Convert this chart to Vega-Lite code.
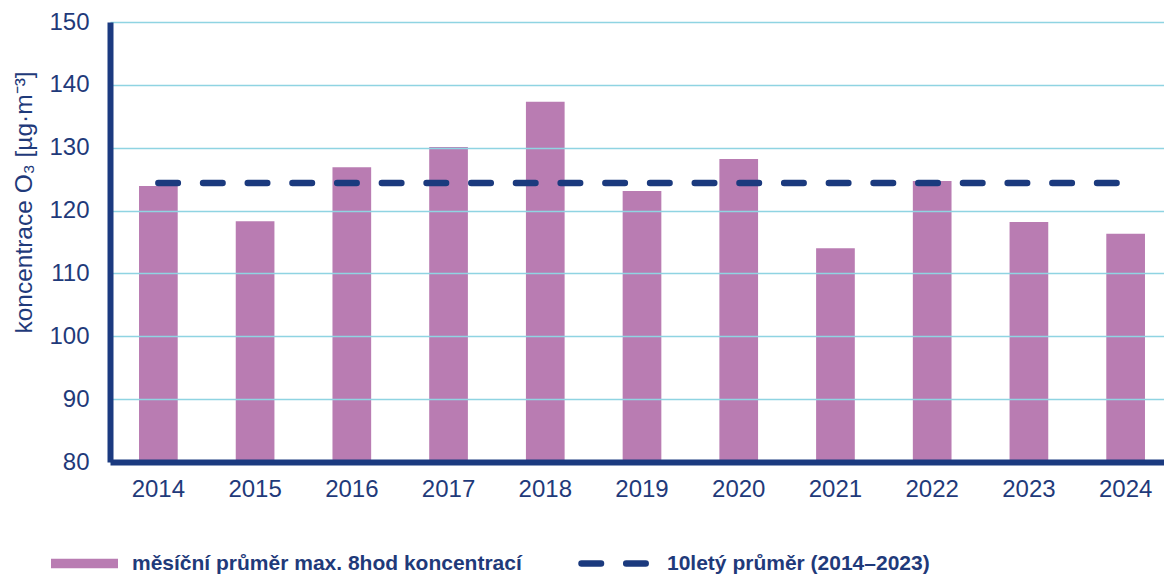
{
  "$schema": "https://vega.github.io/schema/vega-lite/v6.json",
  "autosize": "none",
  "width": 1064,
  "height": 440,
  "padding": {"left": 110, "top": 22, "right": 0, "bottom": 112},
  "background": "white",
  "config": {
    "view": {"stroke": null},
    "font": "Liberation Sans",
    "axis": {"labelFont": "Liberation Sans", "titleFont": "Liberation Sans"}
  },
  "data": {
    "values": [
      {"year": "2014", "value": 123.9, "avg": 124.4},
      {"year": "2015", "value": 118.3, "avg": 124.4},
      {"year": "2016", "value": 126.9, "avg": 124.4},
      {"year": "2017", "value": 130.1, "avg": 124.4},
      {"year": "2018", "value": 137.3, "avg": 124.4},
      {"year": "2019", "value": 123.1, "avg": 124.4},
      {"year": "2020", "value": 128.2, "avg": 124.4},
      {"year": "2021", "value": 114.0, "avg": 124.4},
      {"year": "2022", "value": 124.7, "avg": 124.4},
      {"year": "2023", "value": 118.2, "avg": 124.4},
      {"year": "2024", "value": 116.3, "avg": 124.4}
    ]
  },
  "encoding": {
    "x": {
      "field": "year", "type": "nominal", "sort": null,
      "scale": {"paddingInner": 0.6, "paddingOuter": 0.3},
      "axis": {
        "title": null, "labelAngle": 0, "labelFontSize": 24, "labelColor": "#1f3a7a",
        "labelPadding": 15, "ticks": false, "domainColor": "#1b3a80", "domainWidth": 6,
        "grid": false, "zindex": 2
      }
    }
  },
  "layer": [
    {
      "mark": {"type": "bar", "color": "#b97cb2", "clip": true},
      "encoding": {
        "y": {
          "field": "value", "type": "quantitative",
          "scale": {"domain": [80, 150], "nice": false, "zero": false},
          "axis": {
            "values": [80, 90, 100, 110, 120, 130, 140, 150],
            "title": "koncentrace O₃ [µg·m⁻³]", "titleFontSize": 24.5, "titleFontWeight": "normal",
            "titleColor": "#1f3a7a", "titleX": -86, "titleY": 180, "titleAngle": -90,
            "titleAlign": "center", "titleBaseline": "middle",
            "labelFontSize": 24, "labelColor": "#1f3a7a", "labelPadding": 21,
            "ticks": false, "domainColor": "#1b3a80", "domainWidth": 6,
            "gridColor": "#8fd4e2", "gridWidth": 1.5, "gridOpacity": 1, "zindex": 2
          }
        },
        "color": {
          "datum": "měsíční průměr max. 8hod koncentrací",
          "scale": {"range": ["#b97cb2"]},
          "legend": {
            "title": null, "orient": "none", "legendX": -59, "legendY": 508, "padding": 0,
            "symbolType": "M-1,-0.145H1V0.145H-1Z", "symbolSize": 4489, "symbolStrokeWidth": 0,
            "labelFont": "Liberation Sans", "labelFontSize": 21, "labelFontWeight": "bold",
            "labelColor": "#1f3a7a", "labelOffset": 14, "labelLimit": 600
          }
        }
      }
    },
    {
      "mark": {"type": "line", "color": "#1b3a7e", "strokeWidth": 6.5, "strokeCap": "round"},
      "encoding": {
        "y": {"field": "avg", "type": "quantitative"},
        "strokeDash": {
          "datum": "10letý průměr (2014–2023)",
          "scale": {"range": [[19.5, 25.2]]},
          "legend": {
            "title": null, "orient": "none", "legendX": 468, "legendY": 502, "padding": 0,
            "symbolType": "stroke", "symbolSize": 5184, "symbolStrokeWidth": 6.5,
            "symbolStrokeColor": "#1b3a7e",
            "labelFont": "Liberation Sans", "labelFontSize": 21, "labelFontWeight": "bold",
            "labelColor": "#1f3a7a", "labelOffset": 10, "labelLimit": 600,
            "encode": {"symbols": {"update": {"strokeCap": {"value": "round"}}}}
          }
        }
      }
    }
  ]
}
